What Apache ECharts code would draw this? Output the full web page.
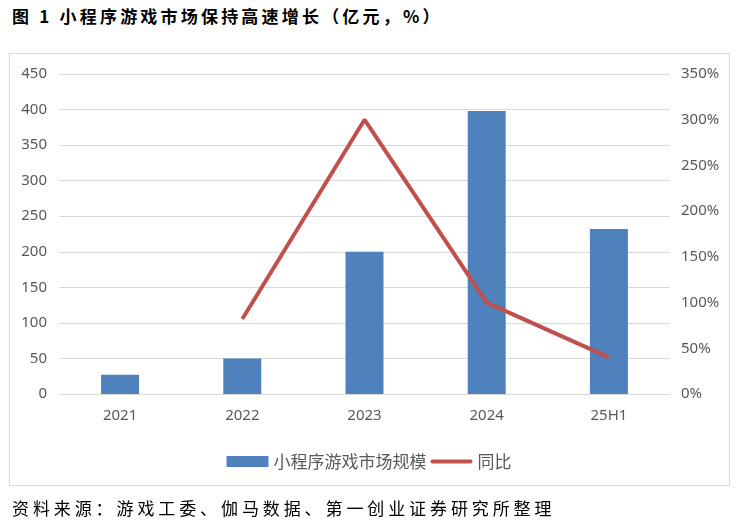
<!DOCTYPE html>
<html lang="zh">

<head>
    <meta charset="UTF-8">
    <title>小程序游戏市场保持高速增长</title>
    <style>
        html,
        body {
            margin: 0;
            padding: 0;
            background: #fff;
        }

        #wrap {
            position: relative;
            width: 738px;
            height: 525px;
            font-family: 'Noto Sans CJK SC', sans-serif;
        }

        .title {
            position: absolute;
            left: 12px;
            top: 3px;
            font-size: 17px;
            font-weight: bold;
            letter-spacing: 3.2px;
            color: #000;
            white-space: nowrap;
        }

        .frame {
            position: absolute;
            left: 9px;
            top: 53px;
            width: 719px;
            height: 431px;
            border: 1px solid #d9d9d9;
        }

        .source {
            position: absolute;
            left: 12px;
            top: 495px;
            font-size: 17px;
            letter-spacing: 3.9px;
            color: #000;
            white-space: nowrap;
        }

        #container {
            position: absolute;
            left: 0;
            top: 0;
            width: 738px;
            height: 525px;
        }
    </style>
    <script src="https://cdn.jsdelivr.net/npm/echarts@6/dist/echarts.min.js"></script>
</head>

<body>
    <div id="wrap">
        <div class="title">图 1 小程序游戏市场保持高速增长（亿元，%）</div>
        <div class="frame"></div>
        <div id="container"></div>
        <div class="source">资料来源：游戏工委、伽马数据、第一创业证券研究所整理</div>
    </div>
    <script>
        var categories = ['2021', '2022', '2023', '2024', '25H1'];
        var marketSize = [27, 50, 200, 398, 232];    // 亿元
        var yoyGrowth = [null, 82, 300, 100, 40];    // %

        var labelColor = '#595959';
        var gridColor = '#d9d9d9';

        var chart = echarts.init(document.getElementById('container'));

        chart.setOption({
            animation: false,
            textStyle: { fontFamily: 'Noto Sans, Noto Sans CJK SC, sans-serif' },
            grid: { left: 59, right: 68, top: 74, bottom: 131 },
            legend: {
                left: 'center',
                top: 448,
                itemWidth: 42,
                itemHeight: 11,
                itemGap: 4,
                textStyle: { color: labelColor, fontSize: 17, fontFamily: 'Noto Sans CJK SC' },
                data: [
                    { name: '小程序游戏市场规模', icon: 'rect' },
                    // plain thick bar for the line entry, no marker dot
                    { name: '同比', icon: 'path://M2,0 L42,0 A2,2 0 0 1 42,4 L2,4 A2,2 0 0 1 2,0 Z' }
                ]
            },
            xAxis: {
                type: 'category',
                data: categories,
                axisTick: { show: false },
                axisLine: { lineStyle: { color: gridColor, width: 1 } },
                axisLabel: { color: labelColor, fontSize: 15, margin: 14 }
            },
            yAxis: [{
                type: 'value',
                min: 0,
                max: 450,
                interval: 50,
                axisLine: { show: false },
                axisTick: { show: false },
                axisLabel: { color: labelColor, fontSize: 15, margin: 12 },
                splitLine: { lineStyle: { color: gridColor, width: 1 } }
            }, {
                type: 'value',
                min: 0,
                max: 350,
                interval: 50,
                axisLine: { show: false },
                axisTick: { show: false },
                axisLabel: { color: labelColor, fontSize: 15, margin: 11, formatter: '{value}%' },
                splitLine: { show: false }
            }],
            series: [{
                name: '小程序游戏市场规模',
                type: 'bar',
                data: marketSize,
                barWidth: 38,
                itemStyle: { color: '#4f81bd' }
            }, {
                name: '同比',
                type: 'line',
                yAxisIndex: 1,
                data: yoyGrowth,
                symbol: 'none',
                lineStyle: { color: '#c0504d', width: 4 },
                itemStyle: { color: '#c0504d' }
            }]
        });
    </script>
</body>

</html>
